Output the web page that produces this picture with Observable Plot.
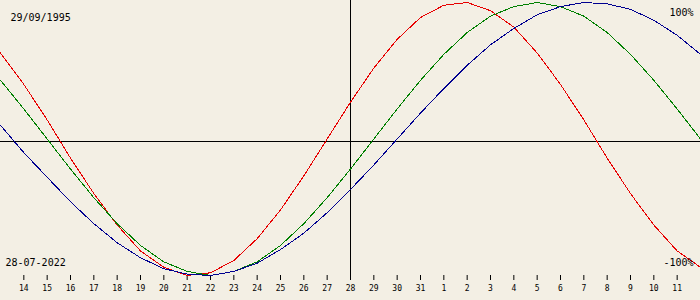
<!DOCTYPE html>
<html><head><meta charset="utf-8">
<script src="https://cdn.jsdelivr.net/npm/d3@7"></script>
<script src="https://cdn.jsdelivr.net/npm/@observablehq/plot@0.6"></script>
<style>html,body{margin:0;padding:0;background:#f3efe4;} svg{display:block}</style>
</head><body><div id="chart"></div>
<script>
const birthDate = "29/09/1995";
const currentDate = "28-07-2022";
const topLabel = "100%";
const bottomLabel = "-100%";

// day offsets relative to the current date, and their day of month
const dayOffsets = [-15,-14,-13,-12,-11,-10,-9,-8,-7,-6,-5,-4,-3,-2,-1,0,1,2,3,4,5,6,7,8,9,10,11,12,13,14,15];
const dayOfMonth = [13,14,15,16,17,18,19,20,21,22,23,24,25,26,27,28,29,30,31,1,2,3,4,5,6,7,8,9,10,11,12];
const tickDays = [-14,-13,-12,-11,-10,-9,-8,-7,-6,-5,-4,-3,-2,-1,0,1,2,3,4,5,6,7,8,9,10,11,12,13,14];

// values in percent
const physical =     [63,40,14,-14,-40,-63,-82,-94,-100,-98,-89,-73,-52,-27,0,27,52,73,89,98,100,94,82,63,40,14,-14,-40,-63,-82,-94];
const emotional =    [43,22,0,-22,-43,-62,-78,-90,-97,-100,-97,-90,-78,-62,-43,-22,0,22,43,62,78,90,97,100,97,90,78,62,43,22,0];
const intellectual = [10,-10,-28,-46,-62,-76,-87,-95,-99,-100,-97,-91,-81,-69,-54,-37,-19,0,19,37,54,69,81,91,97,100,99,95,87,76,62];

const seriesNames = ["physical","emotional","intellectual"];
const seriesColors = ["#e80000","#008000","#000090"];
const seriesValues = [physical, emotional, intellectual];

const rows = seriesNames.flatMap((name, s) =>
  seriesValues[s].map((v, i) => ({day: dayOffsets[i], value: v, name})));

const labelFont = "DejaVu Sans Mono";

const chart = Plot.plot({
  width: 700,
  height: 300,
  marginTop: 2,
  marginBottom: 25,
  marginLeft: 0,
  marginRight: 0,
  style: {background: "#f3efe4", fontFamily: labelFont, fontSize: "8px", color: "black"},
  x: {domain: [-15, 15], ticks: tickDays, tickSize: 5, tickPadding: 5,
      tickFormat: d => String(dayOfMonth[dayOffsets.indexOf(d)]), label: null},
  y: {domain: [-100, 100], axis: null},
  color: {domain: seriesNames, range: seriesColors},
  marks: [
    Plot.ruleY([0], {stroke: "black", dy: 2, shapeRendering: "crispEdges"}),
    Plot.ruleX([0], {stroke: "black", insetTop: -2, shapeRendering: "crispEdges"}),
    Plot.line(rows, {x: "day", y: "value", z: "name", stroke: "name", strokeWidth: 1, shapeRendering: "crispEdges"}),
    Plot.text([birthDate], {frameAnchor: "top-left", text: d => d, textAnchor: "start", lineAnchor: "top", dx: 10, dy: 11, fontSize: 10, fill: "black"}),
    Plot.text([currentDate], {frameAnchor: "bottom-left", text: d => d, textAnchor: "start", lineAnchor: "top", dx: 5, dy: -17, fontSize: 10, fill: "black"}),
    Plot.text([topLabel], {frameAnchor: "top-right", text: d => d, textAnchor: "end", lineAnchor: "top", dx: -7, dy: 6, fontSize: 10, fill: "black"}),
    Plot.text([bottomLabel], {frameAnchor: "bottom-right", text: d => d, textAnchor: "end", lineAnchor: "top", dx: -7, dy: -17, fontSize: 10, fill: "black"})
  ]
});
document.getElementById("chart").append(chart);
</script>
</body></html>
